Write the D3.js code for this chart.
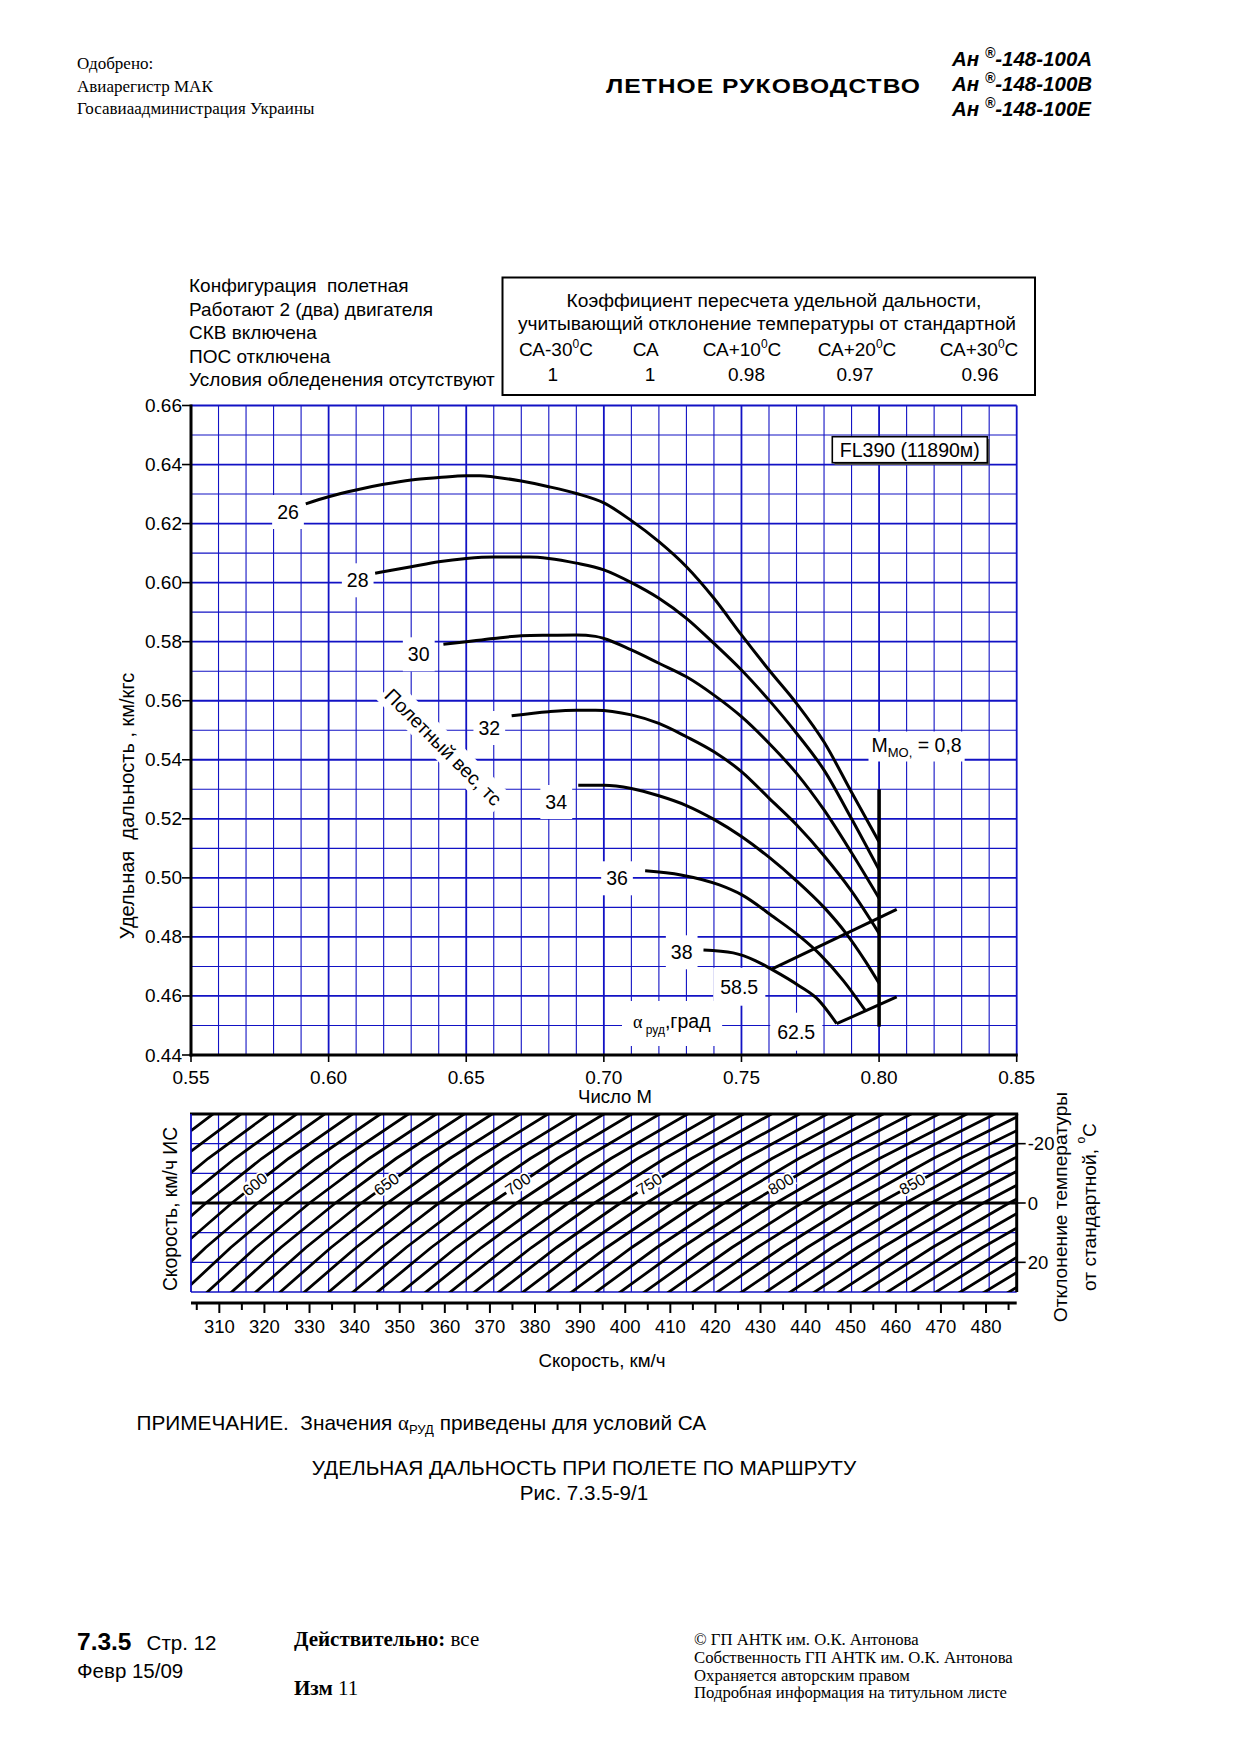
<!DOCTYPE html>
<html><head><meta charset="utf-8">
<script src="https://cdn.jsdelivr.net/npm/d3@7"></script>
<style>body{margin:0;background:#fff} svg{display:block} text{white-space:pre}</style>
</head><body>
<svg id="c" width="1240" height="1755"></svg>
<script>
// ---------------- DATA ----------------
const weights = [26, 28, 30, 32, 34, 36, 38];
const w26 = [[0.5917,0.6267],[0.600,0.6291],[0.610,0.6314],[0.620,0.6333],[0.630,0.6348],[0.640,0.6356],[0.650,0.6362],[0.655,0.6362],[0.660,0.6358],[0.670,0.6344],[0.680,0.6325],[0.690,0.6302],[0.700,0.6270],[0.710,0.6210],[0.720,0.6139],[0.730,0.6054],[0.740,0.5947],[0.750,0.5823],[0.760,0.5704],[0.770,0.5591],[0.780,0.5460],[0.790,0.5290],[0.800,0.5122]];
const w28 = [[0.6169,0.6032],[0.630,0.6054],[0.640,0.6071],[0.650,0.6082],[0.660,0.6087],[0.673,0.6087],[0.680,0.6082],[0.690,0.6066],[0.700,0.6043],[0.710,0.6000],[0.720,0.5947],[0.730,0.5879],[0.740,0.5794],[0.750,0.5704],[0.760,0.5602],[0.770,0.5490],[0.780,0.5365],[0.790,0.5200],[0.800,0.5027]];
const w30 = [[0.6417,0.5791],[0.650,0.5800],[0.660,0.5811],[0.670,0.5820],[0.680,0.5822],[0.690,0.5823],[0.697,0.5818],[0.700,0.5811],[0.710,0.5772],[0.720,0.5727],[0.730,0.5681],[0.740,0.5619],[0.750,0.5546],[0.760,0.5456],[0.770,0.5354],[0.780,0.5230],[0.790,0.5085],[0.800,0.4931]];
const w32 = [[0.6665,0.5549],[0.680,0.5563],[0.690,0.5568],[0.697,0.5568],[0.710,0.5552],[0.720,0.5523],[0.730,0.5478],[0.740,0.5427],[0.750,0.5360],[0.760,0.5270],[0.770,0.5180],[0.780,0.5075],[0.790,0.4955],[0.800,0.4812]];
const w34 = [[0.6907,0.5314],[0.700,0.5314],[0.710,0.5303],[0.720,0.5278],[0.730,0.5245],[0.740,0.5198],[0.750,0.5140],[0.760,0.5070],[0.770,0.4990],[0.780,0.4900],[0.788,0.4812],[0.795,0.4718],[0.800,0.4643]];
const w36 = [[0.715,0.5024],[0.728,0.5010],[0.742,0.4976],[0.750,0.4943],[0.7616,0.4868],[0.7714,0.4800],[0.7786,0.4740],[0.787,0.4652],[0.7949,0.4552]];
const w38 = [[0.7362,0.4756],[0.747,0.4746],[0.755,0.4720],[0.761,0.4690],[0.771,0.4634],[0.778,0.4586],[0.7846,0.4506]];
const weightLabelPos = [[288,512],[357.7,580.3],[418.7,654.3],[489.3,728],[556.2,802],[617,878.3],[681.7,952.3]];

const alphaValues = ["58.5", "62.5"];
const alpha585 = [[0.7610,0.4691],[0.8064,0.4893]];
const alpha625 = [[0.7846,0.4506],[0.8064,0.4597]];
const alphaLabelPos = [[739.2,986.7],[796.2,1031.7]];
const mmoLine = [[0.80,0.530],[0.80,0.4496]];

const xTicks = [0.55, 0.60, 0.65, 0.70, 0.75, 0.80, 0.85];
const yTicks = [0.44, 0.46, 0.48, 0.50, 0.52, 0.54, 0.56, 0.58, 0.60, 0.62, 0.64, 0.66];

// lower nomogram
const tasValues = [530,540,550,560,570,580,590,600,610,620,630,640,650,660,670,680,690,700,710,720,730,740,750,760,770,780,790,800,810,820,830,840,850,860,870,880,890,900,910,920,930,940,950,960,970,980];
const tasLabels = [600, 650, 700, 750, 800, 850];
const tempTicks = [-20, 0, 20];
const tempGrid = [-20, -10, 10, 20];
const speedTicks = [310,320,330,340,350,360,370,380,390,400,410,420,430,440,450,460,470,480];
const speedMinor = [305,315,325,335,345,355,365,375,385,395,405,415,425,435,445,455,465,475,485];

const coefHeaders = ["СА-30", "СА", "СА+10", "СА+20", "СА+30"];
const coefValues = ["1", "1", "0.98", "0.97", "0.96"];
const condLines = ["Конфигурация  полетная", "Работают 2 (два) двигателя", "СКВ включена", "ПОС отключена", "Условия обледенения отсутствуют"];

// ---------------- DRAW ----------------
const svg = d3.select("#c");
const SANS = "'Liberation Sans', Arial, sans-serif";
const SERIF = "'Liberation Serif', 'Times New Roman', serif";
const BLUE = "#1212c4";

function txt(p, x, y, s, o = {}) {
  const t = p.append("text").attr("x", x).attr("y", y)
    .attr("font-family", o.ff || SANS).attr("font-size", o.fs || 19).attr("fill", "#000");
  if (s !== null) t.text(s);
  if (o.anchor) t.attr("text-anchor", o.anchor);
  if (o.fw) t.attr("font-weight", o.fw);
  if (o.fst) t.attr("font-style", o.fst);
  if (o.db) t.attr("dominant-baseline", o.db);
  if (o.tr) t.attr("transform", o.tr);
  return t;
}
function bgFor(p, t, px, py) {
  const b = t.node().getBBox();
  const r = p.insert("rect", () => t.node())
    .attr("x", b.x - px).attr("y", b.y - py).attr("width", b.width + 2 * px).attr("height", b.height + 2 * py)
    .attr("fill", "#fff");
  if (t.attr("transform")) r.attr("transform", t.attr("transform"));
  return r;
}

// ----- header -----
const hdr = svg.append("g");
["Одобрено:", "Авиарегистр МАК", "Госавиаадминистрация Украины"].forEach((s, i) =>
  txt(hdr, 77, [69, 91.5, 114][i], s, {ff: SERIF, fs: 17}));
txt(hdr, 0, 0, "ЛЕТНОЕ РУКОВОДСТВО", {fw: "bold", fs: 20.5, tr: "translate(606,92.5) scale(1.2,1)"})
  .attr("textLength", 314 / 1.2).attr("lengthAdjust", "spacing");
["A", "B", "E"].forEach((v, i) => {
  const t = txt(hdr, 952, [66, 91, 115.5][i], null, {fw: "bold", fst: "italic", fs: 20.5});
  t.append("tspan").text("Ан ");
  t.append("tspan").attr("font-size", 14).attr("dy", -8).text("®");
  t.append("tspan").attr("dy", 8).text("-148-100" + v);
});

// ----- conditions -----
const cg = svg.append("g");
condLines.forEach((s, i) => txt(cg, 189, 292 + i * 23.5, s, {fs: 19}));
cg.append("rect").attr("x", 502.5).attr("y", 277.5).attr("width", 532.5).attr("height", 117.5)
  .attr("fill", "#fff").attr("stroke", "#000").attr("stroke-width", 2);
txt(cg, 774, 306.7, "Коэффициент пересчета удельной дальности,", {fs: 19.2, anchor: "middle"});
txt(cg, 767, 330, "учитывающий отклонение температуры от стандартной", {fs: 19.2, anchor: "middle"});
const colX = [556, 645.7, 742, 857, 979];
const valX = [552.8, 650, 746.5, 855, 980];
coefHeaders.forEach((h, i) => {
  const t = txt(cg, colX[i], 355.7, null, {fs: 19, anchor: "middle"});
  t.append("tspan").text(h);
  if (h !== "СА") {
    t.append("tspan").attr("font-size", 12).attr("dy", -8).text("0");
    t.append("tspan").attr("dy", 8).text("С");
  }
  txt(cg, valX[i], 380.5, coefValues[i], {fs: 19, anchor: "middle"});
});

// ----- main chart -----
const x = d3.scaleLinear().domain([0.55, 0.85]).range([191, 1016.7]);
const y = d3.scaleLinear().domain([0.44, 0.66]).range([1055, 405.5]);
const mg = svg.append("g");
const xGrid = d3.range(31).map(i => Math.round((0.55 + i * 0.01) * 100) / 100);
const yGrid = d3.range(23).map(i => Math.round((0.44 + i * 0.01) * 100) / 100);
mg.selectAll(".vg").data(xGrid).join("line")
  .attr("x1", d => x(d)).attr("x2", d => x(d)).attr("y1", y(0.66)).attr("y2", y(0.44))
  .attr("stroke", BLUE).attr("stroke-width", d => Math.round(d * 100) % 5 === 0 ? 1.8 : 1.1);
mg.selectAll(".hg").data(yGrid).join("line")
  .attr("y1", d => y(d)).attr("y2", d => y(d)).attr("x1", x(0.55)).attr("x2", x(0.85))
  .attr("stroke", BLUE).attr("stroke-width", d => Math.round(d * 100) % 2 === 0 ? 1.8 : 1.1);

// labels layer (with white backgrounds)
const lg = svg.append("g");
weights.forEach((w, i) => {
  const t = txt(lg, weightLabelPos[i][0], weightLabelPos[i][1], String(w), {fs: 19.5, anchor: "middle", db: "central"});
  bgFor(lg, t, 5, 6);
});
alphaValues.forEach((a, i) => {
  const t = txt(lg, alphaLabelPos[i][0], alphaLabelPos[i][1], a, {fs: 19.5, anchor: "middle", db: "central"});
  bgFor(lg, t, 7, 8);
});
{
  const t = txt(lg, 633, 1028, null, {fs: 19.5});
  t.append("tspan").attr("font-family", SERIF).attr("font-size", 18).text("α");
  t.append("tspan").attr("font-size", 12).attr("dy", 6).text(" руд");
  t.append("tspan").attr("dy", -6).text(",град");
  bgFor(lg, t, 11, 9);
}
{
  const t = txt(lg, 0, 0, "Полетный вес, тс", {fs: 19.5, anchor: "middle", db: "central", tr: "translate(443.5,747) rotate(45)"});
  bgFor(lg, t, 3, 3);
}
{
  const t = txt(lg, 871.5, 751.5, null, {fs: 19.5});
  t.append("tspan").text("M");
  t.append("tspan").attr("font-size", 13).attr("dy", 5).text("MO,");
  t.append("tspan").attr("dy", -5).text(" = 0,8");
  bgFor(lg, t, 3, 2);
}
// FL box
lg.append("rect").attr("x", 834.5).attr("y", 439).attr("width", 155).attr("height", 26).attr("fill", "#555");
lg.append("rect").attr("x", 832.3).attr("y", 436.7).attr("width", 155).attr("height", 26)
  .attr("fill", "#fff").attr("stroke", "#000").attr("stroke-width", 1.6);
txt(lg, 909.8, 450, "FL390 (11890м)", {fs: 19.5, anchor: "middle", db: "central"});

// curves
const line = d3.line().x(d => x(d[0])).y(d => y(d[1])).curve(d3.curveMonotoneX);
const straight = d3.line().x(d => x(d[0])).y(d => y(d[1]));
const cgp = svg.append("g").attr("fill", "none").attr("stroke", "#000").attr("stroke-linecap", "butt");
[w26, w28, w30, w32, w34, w36, w38].forEach(c => cgp.append("path").attr("d", line(c)).attr("stroke-width", 3));
[alpha585, alpha625].forEach(c => cgp.append("path").attr("d", straight(c)).attr("stroke-width", 3));
cgp.append("path").attr("d", straight(mmoLine)).attr("stroke-width", 3.6);

// axes
const ax = svg.append("g");
ax.append("line").attr("x1", x(0.55)).attr("x2", x(0.55)).attr("y1", y(0.66) - 1).attr("y2", y(0.44) + 1.5)
  .attr("stroke", "#000").attr("stroke-width", 3);
ax.append("line").attr("x1", x(0.55) - 1.5).attr("x2", x(0.85) + 1).attr("y1", y(0.44)).attr("y2", y(0.44))
  .attr("stroke", "#000").attr("stroke-width", 3);
yTicks.forEach(v => {
  ax.append("line").attr("x1", x(0.55) - 9).attr("x2", x(0.55)).attr("y1", y(v)).attr("y2", y(v)).attr("stroke", "#000").attr("stroke-width", 1.6);
  txt(ax, x(0.55) - 9, y(v), v.toFixed(2), {fs: 19, anchor: "end", db: "central"});
});
xTicks.forEach(v => {
  ax.append("line").attr("x1", x(v)).attr("x2", x(v)).attr("y1", y(0.44)).attr("y2", y(0.44) + 7).attr("stroke", "#000").attr("stroke-width", 1.6);
  txt(ax, x(v), 1077, v.toFixed(2), {fs: 19, anchor: "middle", db: "central"});
});
txt(ax, 615, 1096, "Число М", {fs: 18.5, anchor: "middle", db: "central"});
txt(ax, 0, 0, "Удельная  дальность , км/кгс", {fs: 20, anchor: "middle", db: "central", tr: "translate(126.5,806) rotate(-90)"});

// ----- lower nomogram -----
const yT = d3.scaleLinear().domain([-30, 30]).range([1114, 1292]);
const xS = d3.scaleLinear().domain([303.72, 486.8]).range([191, 1016.7]);
const lo = svg.append("g");
lo.append("clipPath").attr("id", "lowclip").append("rect")
  .attr("x", x(0.55)).attr("y", yT(-30)).attr("width", x(0.85) - x(0.55)).attr("height", yT(30) - yT(-30));
lo.selectAll(".lv").data(xGrid).join("line")
  .attr("x1", d => x(d)).attr("x2", d => x(d)).attr("y1", yT(-30)).attr("y2", yT(30))
  .attr("stroke", BLUE).attr("stroke-width", 1.2);
lo.selectAll(".lh").data(tempGrid).join("line")
  .attr("x1", x(0.55)).attr("x2", x(0.85)).attr("y1", d => yT(d)).attr("y2", d => yT(d))
  .attr("stroke", BLUE).attr("stroke-width", 1.3);
lo.append("line").attr("x1", x(0.55)).attr("x2", x(0.85)).attr("y1", yT(30)).attr("y2", yT(30)).attr("stroke", BLUE).attr("stroke-width", 1.6);

// speed of sound at FL390 (ISA -56.5 C), km/h
const A0 = 1062.25, T0 = 216.65;
const machOf = (tas, dT) => tas / (A0 * Math.sqrt((T0 + dT) / T0));
const tasLine = d3.line().x(d => x(d[0])).y(d => yT(d[1]));
const tl = lo.append("g").attr("clip-path", "url(#lowclip)");
tasValues.forEach(v => {
  const pts = [-32, -15, 0, 15, 32].map(dT => [machOf(v, dT), dT]);
  tl.append("path").attr("d", tasLine(pts)).attr("fill", "none").attr("stroke", "#000").attr("stroke-width", 2.8);
});
lo.append("line").attr("x1", x(0.55)).attr("x2", x(0.85)).attr("y1", yT(0)).attr("y2", yT(0)).attr("stroke", "#000").attr("stroke-width", 3);
lo.append("line").attr("x1", x(0.55) - 1).attr("x2", x(0.85) + 1.5).attr("y1", yT(-30)).attr("y2", yT(-30)).attr("stroke", "#000").attr("stroke-width", 3);
lo.append("line").attr("x1", x(0.85)).attr("x2", x(0.85)).attr("y1", yT(-30)).attr("y2", yT(30)).attr("stroke", "#000").attr("stroke-width", 3);
lo.append("line").attr("x1", x(0.55)).attr("x2", x(0.55)).attr("y1", yT(-30)).attr("y2", yT(30)).attr("stroke", BLUE).attr("stroke-width", 1.6);
tasLabels.forEach(v => {
  const dT = -6.3;
  const p1 = [x(machOf(v, dT - 4)), yT(dT - 4)], p2 = [x(machOf(v, dT + 4)), yT(dT + 4)];
  const ang = Math.atan2(p1[1] - p2[1], p1[0] - p2[0]) * 180 / Math.PI;
  const cx = x(machOf(v, dT)), cy = yT(dT);
  const t = txt(lo, 0, 0, String(v), {fs: 16, anchor: "middle", db: "central", tr: `translate(${cx},${cy}) rotate(${ang})`});
  bgFor(lo, t, 1, -1);
});
tempTicks.forEach(v => {
  lo.append("line").attr("x1", x(0.85)).attr("x2", x(0.85) + 9).attr("y1", yT(v)).attr("y2", yT(v)).attr("stroke", "#000").attr("stroke-width", 1.6);
  txt(lo, x(0.85) + 11, yT(v), String(v), {fs: 18.5, db: "central"});
});
txt(lo, 0, 0, "Отклонение температуры", {fs: 19.2, anchor: "middle", db: "central", tr: "translate(1060,1207) rotate(-90)"});
{
  const t = txt(lo, 0, 0, null, {fs: 19.2, anchor: "middle", db: "central", tr: "translate(1089,1207) rotate(-90)"});
  t.append("tspan").text("от стандартной, ");
  t.append("tspan").attr("font-size", 12).attr("dy", -8).text("о");
  t.append("tspan").attr("dy", 8).text("С");
}
txt(lo, 0, 0, "Скорость, км/ч ИС", {fs: 19.3, anchor: "middle", db: "central", tr: "translate(170,1209) rotate(-90)"});

// speed axis
lo.append("line").attr("x1", x(0.55)).attr("x2", x(0.85)).attr("y1", 1303).attr("y2", 1303).attr("stroke", "#000").attr("stroke-width", 3);
speedTicks.forEach(v => {
  lo.append("line").attr("x1", xS(v)).attr("x2", xS(v)).attr("y1", 1303).attr("y2", 1313).attr("stroke", "#000").attr("stroke-width", 2);
  txt(lo, xS(v), 1326, String(v), {fs: 18.5, anchor: "middle", db: "central"});
});
speedMinor.forEach(v => {
  lo.append("line").attr("x1", xS(v)).attr("x2", xS(v)).attr("y1", 1303).attr("y2", 1310).attr("stroke", "#000").attr("stroke-width", 2);
});
txt(lo, 602, 1360, "Скорость, км/ч", {fs: 18.7, anchor: "middle", db: "central"});

// ----- notes & footer -----
const ft = svg.append("g");
{
  const t = txt(ft, 136.5, 1429.5, null, {fs: 20.8});
  t.append("tspan").text("ПРИМЕЧАНИЕ.  Значения ");
  t.append("tspan").attr("font-family", SERIF).text("α");
  t.append("tspan").attr("font-size", 13).attr("dy", 4).text("РУД");
  t.append("tspan").attr("dy", -4).text(" приведены для условий СА");
}
txt(ft, 584, 1475, "УДЕЛЬНАЯ ДАЛЬНОСТЬ ПРИ ПОЛЕТЕ ПО МАРШРУТУ", {fs: 20.8, anchor: "middle"});
txt(ft, 584, 1500, "Рис. 7.3.5-9/1", {fs: 20.6, anchor: "middle"});
txt(ft, 77, 1650, "7.3.5", {fs: 24.5, fw: "bold"});
txt(ft, 146.6, 1650, "Стр. 12", {fs: 20.5});
txt(ft, 77, 1677.5, "Февр 15/09", {fs: 20.5});
{
  const t = txt(ft, 294, 1646, null, {ff: SERIF, fs: 21});
  t.append("tspan").attr("font-weight", "bold").text("Действительно:");
  t.append("tspan").text(" все");
  const t2 = txt(ft, 294, 1694.5, null, {ff: SERIF, fs: 21});
  t2.append("tspan").attr("font-weight", "bold").text("Изм");
  t2.append("tspan").text(" 11");
}
["© ГП АНТК им. О.К. Антонова", "Собственность ГП АНТК им. О.К. Антонова", "Охраняется авторским правом", "Подробная информация на титульном листе"]
  .forEach((s, i) => txt(ft, 694, [1644.5, 1662.5, 1680.5, 1697.5][i], s, {ff: SERIF, fs: 16.7}));
</script>
</body></html>
